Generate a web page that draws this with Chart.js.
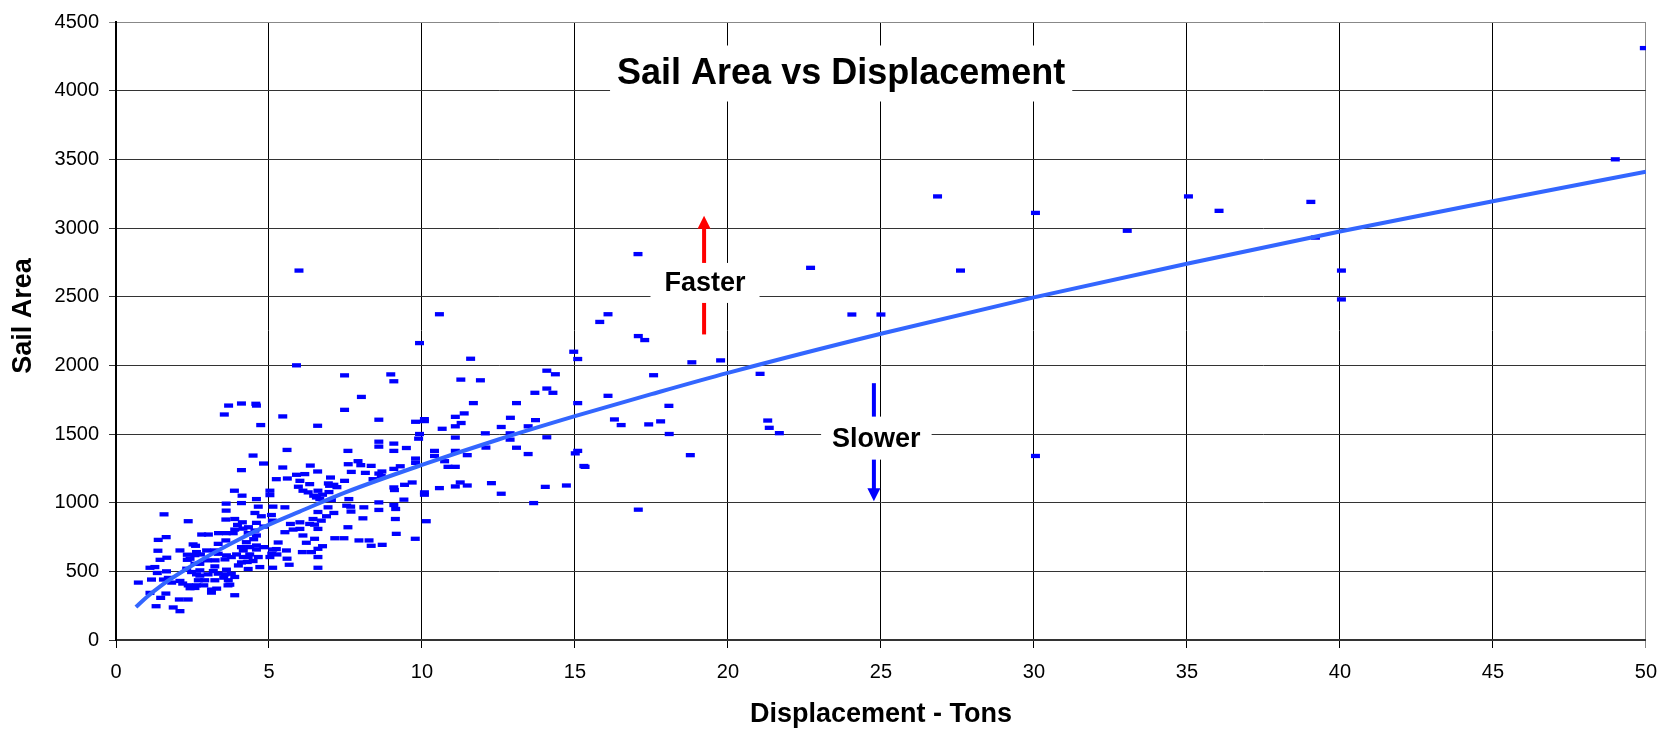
<!DOCTYPE html>
<html lang="en">
<head>
<meta charset="UTF-8">
<title>Sail Area vs Displacement</title>
<script src="https://cdn.jsdelivr.net/npm/chart.js"></script>
<style>
	body { margin: 0; padding: 0; background: #fff; }
	#chartContainer { width: 1669px; height: 732px; }
</style>
</head>
<body>
<div id="chartContainer">
	<canvas id="myChart"></canvas>
</div>
<script>
// boats: displacement (tons) and sail area
var displacement = [
	5.9, 7.47, 8.98, 9.08, 8.02, 7.47, 8.59, 9.79, 10.08, 10.08, 10.66, 9.92, 9.89, 3.68, 4.10, 4.57, 4.59, 3.54, 5.45, 4.73,
	6.59, 5.59, 7.58, 4.48, 4.82, 4.10, 5.45, 6.35, 6.59, 7.91, 8.00, 8.34, 7.59, 8.59, 8.59, 9.08, 9.08, 9.49, 9.79, 9.79,
	9.29, 9.08, 8.69, 8.59, 8.67, 8.40, 7.69, 8.15, 9.68, 9.43, 9.08, 9.10, 10.57, 10.85, 10.41, 10.41, 10.08, 10.08, 9.41, 9.08,
	8.59, 8.59, 9.14, 9.13, 9.16, 9.78, 10.14, 8.70, 8.34, 8.27, 7.94, 7.45, 7.15, 7.58, 8.07, 8.10, 7.68, 7.67, 7.61, 7.54,
	7.47, 7.01, 6.94, 7.12, 7.22, 6.98, 6.96, 6.75, 6.46, 6.28, 6.60, 6.01, 5.90, 6.17, 5.96, 6.11, 6.33, 6.55, 6.66, 7.04,
	7.12, 6.88, 6.60, 6.93, 6.71, 6.44, 6.49, 6.33, 6.60, 6.01, 5.70, 6.01, 5.79, 5.52, 6.11, 6.22, 6.49, 6.75, 6.60, 6.39,
	6.09, 6.60, 6.60, 5.57, 5.30, 5.59, 5.66, 5.12, 5.03, 5.12, 5.09, 5.26, 5.24, 5.52, 5.13, 5.08, 5.11, 5.03, 5.03, 5.24,
	5.60, 4.75, 4.83, 4.59, 4.54, 4.65, 4.59, 4.33, 4.15, 3.97, 4.12, 4.10, 3.87, 3.60, 3.60, 3.59, 3.88, 4.13, 3.35, 3.02,
	2.80, 2.36, 1.57, 1.38, 1.64, 1.37, 1.44, 1.66, 1.11, 1.27, 1.35, 1.16, 0.73, 1.65, 1.55, 1.71, 1.82, 1.11, 1.46, 1.63,
	1.31, 1.87, 2.09, 2.07, 2.36, 2.09, 2.52, 2.60, 2.33, 2.33, 2.42, 2.63, 2.58, 2.76, 2.96, 3.23, 3.34, 3.56, 3.24, 2.98,
	2.74, 2.31, 2.47, 2.63, 2.74, 2.90, 2.69, 2.74, 2.09, 2.18, 2.36, 2.42, 2.58, 2.63, 3.12, 3.12, 3.29, 3.23, 3.34, 3.18,
	3.01, 2.87, 3.52, 3.56, 3.61, 3.67, 3.72, 3.66, 3.88, 3.88, 3.77, 4.00, 4.10, 4.32, 4.29, 4.32, 4.48, 4.70, 4.65, 4.16,
	4.16, 4.10, 4.37, 4.37, 3.94, 3.77, 3.61, 3.59, 3.34, 3.61, 3.83, 3.88, 4.26, 4.50, 4.59, 4.59, 4.83, 4.59, 4.32, 4.54,
	2.58, 3.23, 5.98, 9.92, 10.57,
	11.59, 14.96, 15.09, 15.81, 16.08, 17.07, 17.28, 18.82, 19.76, 17.57, 14.08, 14.36, 11.27, 11.91, 13.69, 14.08, 14.28, 11.68, 13.09, 15.09,
	16.08, 18.07, 11.09, 11.38, 11.28, 11.09, 12.89, 13.71, 12.59, 13.47, 12.07, 12.88, 12.88, 11.09, 14.08, 16.29, 16.51, 17.41, 17.80, 18.08,
	11.09, 11.48, 12.09, 13.09, 13.47, 15.09, 15.33, 18.77, 10.74, 11.09, 11.25, 11.09, 11.48, 12.27, 12.59, 14.03, 14.72, 13.65, 17.07,
	49.95, 49.0, 26.85, 30.05, 33.05, 35.05, 36.05, 39.05, 39.2, 40.05, 40.05, 30.05, 27.6, 22.7, 24.05, 25.0, 17.06, 21.05, 21.3, 21.35,
	21.68, 15.01, 15.29
];
var sailArea = [
	2000, 1927, 1934, 1884, 1770, 1676, 1604, 1589, 1608, 1594, 1538, 1500, 1466, 1707, 1722, 1720, 1707, 1642, 1628, 1565,
	1560, 1384, 1377, 1343, 1285, 1237, 1256, 1270, 1227, 1302, 1273, 1268, 1280, 1444, 1408, 1430, 1377, 1398, 1321, 1290,
	1265, 1246, 1227, 1212, 1193, 1171, 1224, 1217, 1147, 1130, 1111, 1092, 1106, 1261, 1377, 1340, 1075, 1058, 1022, 983,
	1002, 947, 954, 881, 773, 737, 865, 693, 686, 725, 725, 741, 741, 821, 886, 966, 935, 971, 1026, 978,
	1159, 1183, 1140, 1130, 1113, 1123, 1077, 1058, 1051, 1075, 1087, 1159, 1203, 1208, 1116, 1087, 1135, 1038, 1026, 1019,
	925, 901, 932, 966, 869, 881, 840, 845, 809, 857, 845, 809, 804, 785, 761, 708, 737, 683, 664, 640,
	640, 604, 526, 652, 710, 592, 548, 526, 604, 659, 628, 623, 662, 966, 971, 910, 869, 1087, 1055, 1171,
	1176, 901, 826, 853, 925, 971, 1026, 821, 811, 838, 1051, 997, 1087, 993, 942, 877, 881, 857, 778, 768,
	768, 865, 915, 729, 749, 650, 584, 599, 526, 531, 488, 440, 418, 500, 440, 452, 418, 343, 307, 338,
	246, 237, 210, 295, 295, 652, 696, 686, 621, 584, 592, 640, 618, 623, 652, 652, 628, 587, 580, 580,
	555, 519, 495, 478, 507, 435, 435, 469, 430, 411, 398, 377, 379, 398, 367, 345, 374, 435, 483, 502,
	478, 398, 454, 478, 512, 435, 403, 398, 326, 459, 483, 543, 565, 517, 568, 604, 575, 531, 604, 604,
	652, 676, 676, 623, 623, 604, 616, 725, 700, 778, 778, 804, 712, 734, 688, 659, 676, 761, 778, 797,
	555, 536, 2690, 2162, 2372,
	2048, 2099, 2046, 2316, 2372, 2213, 2184, 2022, 2036, 1928, 1961, 1935, 1896, 1891, 1800, 1831, 1800, 1725, 1725, 1725,
	1778, 1705, 1625, 1650, 1580, 1556, 1618, 1601, 1551, 1556, 1505, 1505, 1459, 1474, 1476, 1606, 1565, 1570, 1592, 1500,
	1377, 1346, 1401, 1400, 1354, 1377, 1261, 1346, 1302, 1261, 1147, 1118, 1125, 1142, 1065, 1115, 1125, 997, 949,
	4310, 3500, 3230, 3110, 2980, 3230, 3125, 3190, 2930, 2690, 2480, 1340, 2690, 2710, 2370, 2370, 2810, 1938, 1598, 1545,
	1506, 1359, 1267
];

// fitted curve
var trendX = [0.65, 1, 1.5, 2, 3, 4, 5, 6, 7.5, 10, 12.5, 15, 17.5, 20, 25, 30, 35, 40, 45, 50];
var trendY = [240, 312, 400, 475, 610, 730, 840, 935, 1075, 1275, 1460, 1630, 1790, 1945, 2230, 2495, 2740, 2975, 3195, 3410];

var xTicks = [0, 5, 10, 15, 20, 25, 30, 35, 40, 45, 50];
var yTicks = [0, 500, 1000, 1500, 2000, 2500, 3000, 3500, 4000, 4500];

// notes on the plot: [x, y] in data units
var titleAt = [23.7, 4125];
var fasterAt = [19.25, 2600];
var slowerAt = [24.85, 1470];
var fasterArrow = [19.22, 2225, 3090];
var slowerArrow = [24.77, 1870, 1010];
var yTitleAt = [24, 316]; // pixels, left margin

var FONT = "'Liberation Sans', Arial, sans-serif";

var boats = displacement.map(function(d, i) { return {x: d, y: sailArea[i]}; });
var trend = trendX.map(function(d, i) { return {x: d, y: trendY[i]}; });

function arrow(ctx, x, y0, y1, color) {
	var dir = y1 < y0 ? 1 : -1;  // 1 = pointing up
	ctx.fillStyle = color;
	ctx.strokeStyle = color;
	ctx.lineWidth = 4;
	ctx.beginPath();
	ctx.moveTo(x, y0);
	ctx.lineTo(x, y1 + dir * 12);
	ctx.stroke();
	ctx.beginPath();
	ctx.moveTo(x, y1);
	ctx.lineTo(x - 6.5, y1 + dir * 13);
	ctx.lineTo(x + 6.5, y1 + dir * 13);
	ctx.closePath();
	ctx.fill();
}

function labelBox(ctx, text, x, y, size, padX, h) {
	ctx.font = 'bold ' + size + 'px ' + FONT;
	var w = ctx.measureText(text).width + padX * 2;
	ctx.fillStyle = '#fff';
	ctx.fillRect(x - w / 2, y - h / 2, w, h);
	ctx.fillStyle = '#000';
	ctx.textAlign = 'center';
	ctx.textBaseline = 'middle';
	ctx.fillText(text, x, y + 1);
}

var notes = {
	id: 'notes',
	beforeDatasetsDraw: function(chart) {
		var ctx = chart.ctx, xs = chart.scales.x, ys = chart.scales.y;
		ctx.save();
		arrow(ctx, xs.getPixelForValue(fasterArrow[0]), ys.getPixelForValue(fasterArrow[1]), ys.getPixelForValue(fasterArrow[2]), '#ff0000');
		arrow(ctx, xs.getPixelForValue(slowerArrow[0]), ys.getPixelForValue(slowerArrow[1]), ys.getPixelForValue(slowerArrow[2]), '#0000ff');
		labelBox(ctx, 'Sail Area vs Displacement', xs.getPixelForValue(titleAt[0]), ys.getPixelForValue(titleAt[1]), 36, 7, 56);
		labelBox(ctx, 'Faster', xs.getPixelForValue(fasterAt[0]), ys.getPixelForValue(fasterAt[1]), 27, 14, 40);
		labelBox(ctx, 'Slower', xs.getPixelForValue(slowerAt[0]), ys.getPixelForValue(slowerAt[1]), 27, 11, 43);
		// y axis title, sits a little above the middle of the axis
		ctx.translate(yTitleAt[0], yTitleAt[1]);
		ctx.rotate(-Math.PI / 2);
		ctx.font = 'bold 27px ' + FONT;
		ctx.fillStyle = '#000';
		ctx.textAlign = 'center';
		ctx.textBaseline = 'middle';
		ctx.fillText('Sail Area', 0, 0);
		ctx.restore();
	}
};

var myChart = new Chart(document.getElementById('myChart').getContext('2d'), {
	type: 'scatter',
	data: {
		datasets: [{
			label: 'Trend',
			data: trend,
			showLine: true,
			borderColor: '#3366ff',
			borderWidth: 4,
			pointRadius: 0,
			cubicInterpolationMode: 'monotone',
			order: 0
		}, {
			label: 'Boats',
			data: boats,
			pointStyle: 'line',
			pointRadius: 4.5,
			pointBorderWidth: 4.3,
			borderColor: '#0000ff',
			backgroundColor: '#0000ff',
			order: 1
		}]
	},
	options: {
		responsive: true,
		maintainAspectRatio: false,
		animation: false,
		layout: { padding: { left: 0, top: 19, right: 23, bottom: 0 } },
		plugins: {
			legend: { display: false },
			tooltip: { enabled: false }
		},
		scales: {
			x: {
				type: 'linear',
				min: 0,
				max: 50,
				afterBuildTicks: function(s) { s.ticks = xTicks.map(function(v) { return {value: v}; }); },
				afterFit: function(s) { s.height = 92; },
				ticks: {
					color: '#000', font: { family: FONT, size: 20 }, padding: 12, maxRotation: 0,
					callback: function(v) { return String(v); }
				},
				grid: {
					color: function(c) { return c.tick && c.tick.value === 50 ? '#888' : '#000'; },
					lineWidth: 1,
					tickLength: 8
				},
				border: { color: '#333', width: 2 },
				title: {
					display: true,
					text: 'Displacement - Tons',
					color: '#000',
					font: { family: FONT, size: 27, weight: 'bold' },
					padding: { top: 0, bottom: 1 }
				}
			},
			y: {
				type: 'linear',
				min: 0,
				max: 4500,
				afterBuildTicks: function(s) { s.ticks = yTicks.map(function(v) { return {value: v}; }); },
				afterFit: function(s) { s.width = 116; },
				ticks: {
					color: '#000', font: { family: FONT, size: 20 }, padding: 10,
					callback: function(v) { return String(v); }
				},
				grid: {
					color: function(c) { return c.tick && c.tick.value === 4500 ? '#888' : '#333'; },
					lineWidth: 1,
					tickLength: 7
				},
				border: { color: '#000', width: 2 }
			}
		}
	},
	plugins: [notes]
});
</script>
</body>
</html>
